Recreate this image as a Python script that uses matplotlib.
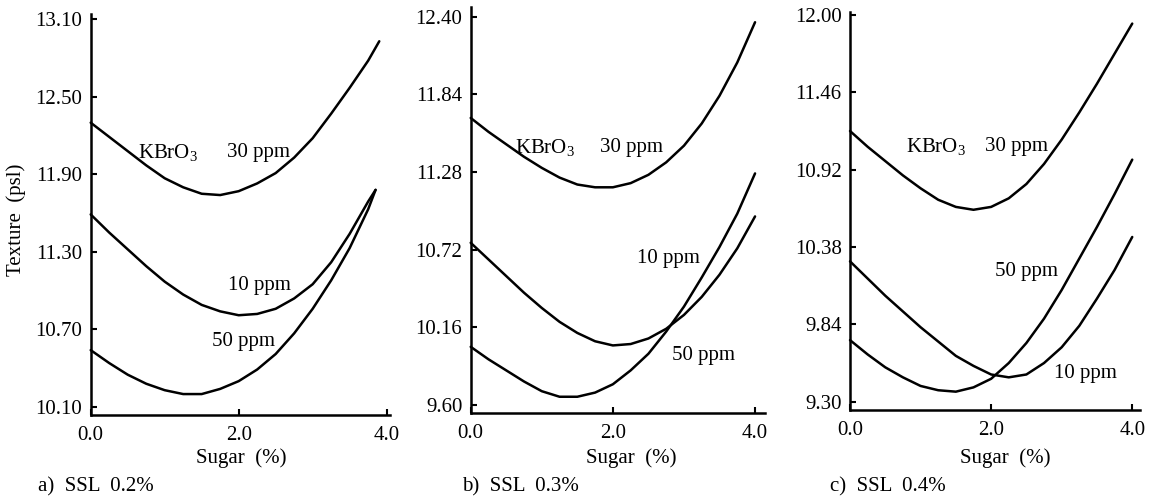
import matplotlib
matplotlib.use("Agg")
import matplotlib.pyplot as plt

plt.rcParams.update({
    "font.family": "Liberation Serif",
    "mathtext.fontset": "custom",
    "mathtext.rm": "Liberation Serif",
    "mathtext.it": "Liberation Serif:italic",
    "font.size": 15,
})

# ── data (sugar %, texture psl) ──────────────────────────────────────────────
sugar_grid = [0, 0.25, 0.5, 0.75, 1.0, 1.25, 1.5, 1.75, 2.0, 2.25, 2.5,
              2.75, 3.0, 3.25, 3.5, 3.75]

# a) SSL 0.2%
a_x30 = sugar_grid + [3.9]
a_30 = [12.30, 12.19, 12.08, 11.97, 11.87, 11.80, 11.75, 11.74, 11.77, 11.83,
        11.91, 12.03, 12.18, 12.37, 12.57, 12.78, 12.93]
a_xlow = sugar_grid + [3.85]
a_10 = [11.59, 11.45, 11.32, 11.19, 11.07, 10.97, 10.89, 10.84, 10.81, 10.82,
        10.86, 10.94, 11.05, 11.22, 11.44, 11.69, 11.78]
a_50 = [10.54, 10.44, 10.35, 10.28, 10.23, 10.20, 10.20, 10.24, 10.30, 10.39,
        10.51, 10.67, 10.86, 11.08, 11.33, 11.63, 11.78]

# b) SSL 0.3%
b_x = sugar_grid + [4.0]
b_30 = [11.67, 11.57, 11.48, 11.39, 11.31, 11.24, 11.19, 11.17, 11.17, 11.20,
        11.26, 11.35, 11.47, 11.63, 11.83, 12.07, 12.36]
b_10 = [10.77, 10.65, 10.53, 10.41, 10.30, 10.20, 10.12, 10.06, 10.03, 10.04,
        10.08, 10.15, 10.25, 10.38, 10.54, 10.73, 10.96]
b_50 = [10.02, 9.93, 9.85, 9.77, 9.70, 9.66, 9.66, 9.69, 9.75, 9.85,
        9.97, 10.13, 10.31, 10.52, 10.74, 10.98, 11.27]

# c) SSL 0.4%
c_x = sugar_grid + [4.0]
c_30 = [11.19, 11.08, 10.98, 10.88, 10.79, 10.71, 10.66, 10.64, 10.66, 10.72,
        10.82, 10.96, 11.13, 11.32, 11.52, 11.73, 11.94]
c_10 = [10.28, 10.16, 10.04, 9.93, 9.82, 9.72, 9.62, 9.55, 9.49, 9.47,
        9.49, 9.57, 9.68, 9.83, 10.02, 10.22, 10.45]
c_50 = [9.73, 9.63, 9.54, 9.47, 9.41, 9.38, 9.37, 9.40, 9.46, 9.57,
        9.71, 9.88, 10.08, 10.30, 10.52, 10.75, 10.99]

yticks_a = [10.10, 10.70, 11.30, 11.90, 12.50, 13.10]
yticks_b = [9.60, 10.16, 10.72, 11.28, 11.84, 12.40]
yticks_c = [9.30, 9.84, 10.38, 10.92, 11.46, 12.00]
xticks = [0.0, 2.0, 4.0]

W, H = 1157, 504
fig = plt.figure(figsize=(W / 100, H / 100), dpi=100)


def px_axes(left, right, bottom, top):
    # pixel box -> figure fraction
    return fig.add_axes([left / W, 1 - bottom / H, (right - left) / W, (bottom - top) / H])


panels = [
    # box (px), xlim, ylim, yticks, curves, labels
    dict(box=(90.7, 390, 415, 14), xlim=(0, 4.045), ylim=(10.038, 13.141),
         yticks=yticks_a,
         curves=[(a_x30, a_30), (a_xlow, a_10), (a_xlow, a_50)],
         labels=[(0.64, 12.07, "KBrO$_3$"), (1.84, 12.07, "30 ppm"),
                 (1.86, 11.04, "10 ppm"), (1.64, 10.61, "50 ppm")]),
    dict(box=(470.7, 765, 412.7, 6.7), xlim=(0, 4.14), ylim=(9.545, 12.472),
         yticks=yticks_b,
         curves=[(b_x, b_30), (b_x, b_10), (b_x, b_50)],
         labels=[(0.62, 11.46, "KBrO$_3$"), (1.82, 11.46, "30 ppm"),
                 (2.34, 10.66, "10 ppm"), (2.83, 9.96, "50 ppm")]),
    dict(box=(850, 1140, 410, 11.7), xlim=(0, 4.11), ylim=(9.242, 12.023),
         yticks=yticks_c,
         curves=[(c_x, c_30), (c_x, c_10), (c_x, c_50)],
         labels=[(0.79, 11.08, "KBrO$_3$"), (1.92, 11.08, "30 ppm"),
                 (2.06, 10.21, "50 ppm"), (2.89, 9.50, "10 ppm")]),
]

for p in panels:
    ax = px_axes(*p["box"])
    for xs, ys in p["curves"]:
        ax.plot(xs, ys, color="black", lw=1.8, solid_capstyle="round",
                solid_joinstyle="round", clip_on=False)
    for x, y, s in p["labels"]:
        ax.text(x, y, s, ha="left", va="center", fontsize=15)
    ax.set_xlim(*p["xlim"])
    ax.set_ylim(*p["ylim"])
    ax.set_yticks(p["yticks"])
    ax.set_yticklabels([f"{v:.2f}" for v in p["yticks"]])
    ax.set_xticks(xticks)
    ax.set_xticklabels([f"{v:.1f}" for v in xticks])
    for side in ("top", "right"):
        ax.spines[side].set_visible(False)
    for side in ("left", "bottom"):
        ax.spines[side].set_linewidth(1.8)
    ax.tick_params(direction="in", length=4, width=1.5, labelsize=15, pad=6)
    ax.tick_params(axis="x", pad=8)

# axis titles and panel captions
fig.text(16 / W, 1 - 220 / H, "Texture  (psl)", rotation=90, ha="center", va="center", fontsize=15)
for xc, cap_x, cap in [(241, 38, "a)  SSL  0.2%"), (631, 462, "b)  SSL  0.3%"),
                       (1005, 830, "c)  SSL  0.4%")]:
    fig.text(xc / W, 1 - 458 / H, "Sugar  (%)", ha="center", va="center", fontsize=15)
    fig.text(cap_x / W, 1 - 487 / H, cap, ha="left", va="center", fontsize=15)

fig.savefig("out.png", dpi=100)
